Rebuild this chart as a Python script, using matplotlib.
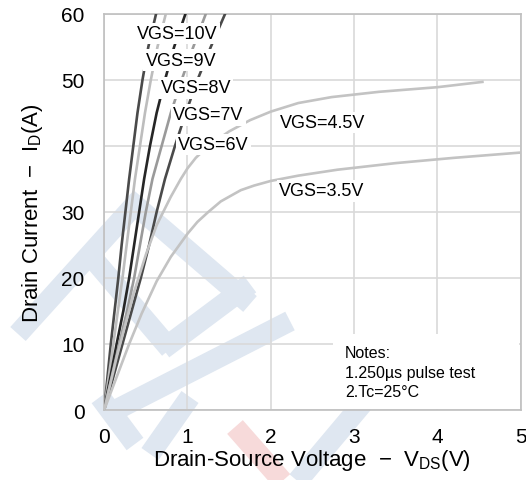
import matplotlib
matplotlib.use('Agg')
import matplotlib.pyplot as plt
from matplotlib.lines import Line2D
from matplotlib.patches import Rectangle

plt.rcParams['font.family'] = ['Liberation Sans', 'DejaVu Sans']

# steep curves: drain current points and the Vds read at them
id_steep = [0, 5, 10, 15, 20, 25, 30, 35, 40, 45, 50, 55, 62]
vds_10v = [0, 0.04, 0.08, 0.125, 0.17, 0.21, 0.255, 0.30, 0.35, 0.40, 0.46, 0.53, 0.66]
vds_9v = [0, 0.055, 0.11, 0.165, 0.22, 0.27, 0.32, 0.37, 0.43, 0.49, 0.56, 0.64, 0.78]
vds_8v = [0, 0.075, 0.15, 0.23, 0.30, 0.36, 0.42, 0.48, 0.55, 0.63, 0.73, 0.84, 1.03]
vds_7v = [0, 0.09, 0.18, 0.275, 0.36, 0.43, 0.50, 0.58, 0.69, 0.80, 0.93, 1.07, 1.28]
vds_6v = [0, 0.11, 0.22, 0.33, 0.44, 0.54, 0.63, 0.73, 0.85, 0.98, 1.12, 1.28, 1.52]

vds_45 = [0, 0.15, 0.35, 0.5, 0.63, 0.8, 0.92, 1.0, 1.1, 1.25, 1.5, 1.75, 2.0,
          2.33, 2.73, 3.3, 4.0, 4.54]
id_45 = [0, 8, 17.5, 23.5, 28, 32.3, 35, 36.6, 38.2, 40, 42.2, 43.9, 45.2,
         46.5, 47.4, 48.2, 48.9, 49.7]

vds_35 = [0, 0.15, 0.3, 0.45, 0.63, 0.8, 1.0, 1.12, 1.25, 1.4, 1.64, 1.8, 2.0,
          2.33, 2.8, 3.5, 4.2, 5.0]
id_35 = [0, 5, 10, 14.6, 19.5, 23.2, 26.7, 28.5, 30.0, 31.6, 33.3, 34.0, 34.7,
         35.5, 36.4, 37.4, 38.2, 39.0]

steep = [('VGS=10V', vds_10v, '#4a4a4a', (0.88, 57.0)),
         ('VGS=9V', vds_9v, '#bdbdbd', (0.92, 53.0)),
         ('VGS=8V', vds_8v, '#262626', (1.10, 48.8)),
         ('VGS=7V', vds_7v, '#9a9a9a', (1.25, 44.7)),
         ('VGS=6V', vds_6v, '#4a4a4a', (1.31, 40.2))]

fig = plt.figure(figsize=(5.26, 4.81), dpi=100)
ax = fig.add_axes([0.198, 0.1455, 0.792, 0.8235])
ax.set_facecolor('none')

# faint watermark bands behind the chart (pixel coords of the picture)
def band(p0, p1, color, w=15):
    xs = [p0[0] / 526, p1[0] / 526]
    ys = [1 - p0[1] / 481, 1 - p1[1] / 481]
    fig.add_artist(Line2D(xs, ys, transform=fig.transFigure, color=color,
                          lw=w, solid_capstyle='butt', zorder=-1))

blue = '#dfe7f1'
band((18, 335), (140, 200), blue)
band((128, 200), (250, 305), blue)
band((95, 262), (170, 350), blue)
band((163, 350), (250, 285), blue)
band((108, 415), (290, 322), blue)
band((100, 398), (135, 445), blue)
band((190, 398), (150, 455), blue)
band((295, 485), (400, 360), blue)
band((235, 428), (285, 485), '#f7dada')

ax.grid(True, color='#d9d9d9', lw=1.2)
ax.set_axisbelow(True)

for name, vds, col, pos in steep:
    ax.plot(vds, id_steep, color=col, lw=1.9, zorder=3)
ax.plot(vds_45, id_45, color='#c3c3c3', lw=1.9, zorder=3)
ax.plot(vds_35, id_35, color='#c3c3c3', lw=1.9, zorder=3)

lbl_box = dict(facecolor='white', edgecolor='none', pad=1.5)
for name, vds, col, pos in steep:
    ax.text(pos[0], pos[1], name, fontsize=13, ha='center', va='center',
            bbox=lbl_box, zorder=4)
ax.text(2.62, 43.6, 'VGS=4.5V', fontsize=13, ha='center', va='center',
        bbox=lbl_box, zorder=4)
ax.text(2.61, 33.2, 'VGS=3.5V', fontsize=13, ha='center', va='center',
        bbox=lbl_box, zorder=4)

ax.add_patch(Rectangle((0.549, 0.003), 0.448, 0.19, transform=ax.transAxes,
                       facecolor='white', edgecolor='none', zorder=4))
ax.text(0.578, 0.163, 'Notes:\n1.250\u00b5s pulse test\n2.Tc=25\u00b0C',
        transform=ax.transAxes, fontsize=11.5, ha='left', va='top',
        linespacing=1.35, zorder=5)

ax.set_xlim(0, 5)
ax.set_ylim(0, 60)
ax.set_xticks([0, 1, 2, 3, 4, 5])
ax.set_yticks([0, 10, 20, 30, 40, 50, 60])
ax.tick_params(length=0, labelsize=15)
ax.tick_params(axis='x', pad=12)
ax.tick_params(axis='y', pad=14)
for s in ax.spines.values():
    s.set_color('#bfbfbf')
    s.set_linewidth(1.2)

ax.set_xlabel('Drain-Source Voltage  \u2212  V$_\\mathregular{DS}$(V)', fontsize=16, labelpad=1)
ax.set_ylabel('Drain Current  \u2212  I$_\\mathregular{D}$(A)', fontsize=16, labelpad=12)

fig.savefig('out.png', dpi=100)
